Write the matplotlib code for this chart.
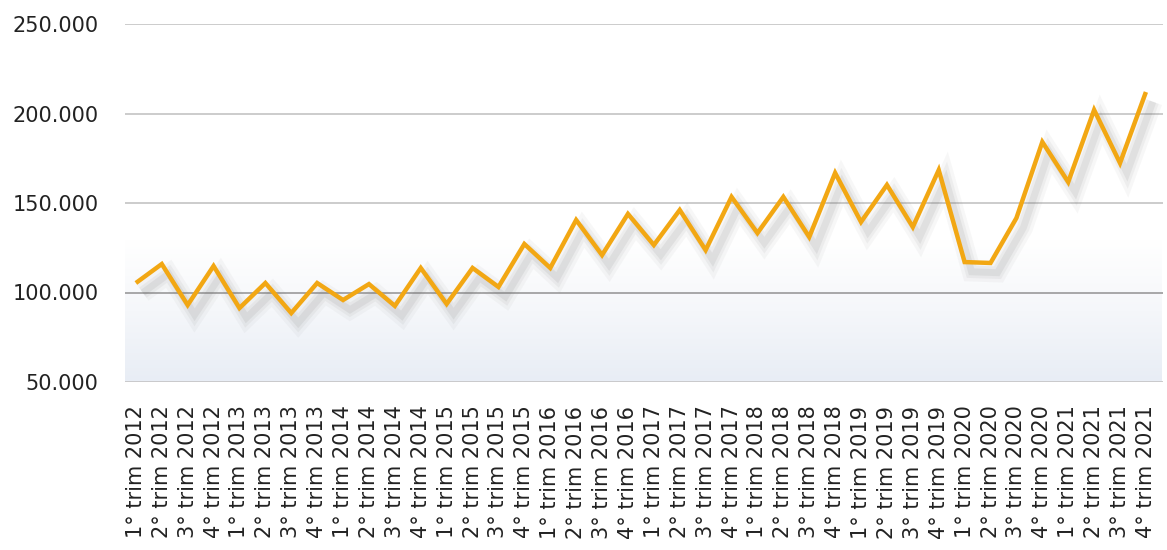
import numpy as np
import matplotlib
matplotlib.use("Agg")
import matplotlib.pyplot as plt
import matplotlib.patheffects as pe
from matplotlib.colors import LinearSegmentedColormap
from matplotlib.ticker import FuncFormatter

years = [2012, 2013, 2014, 2015, 2016, 2017, 2018, 2019, 2020, 2021]
quarters = [1, 2, 3, 4]
labels = [f"{q}° trim {y}" for y in years for q in quarters]

values = [
    105300, 115900, 93000, 114800,
    91300, 105300, 88500, 105300,
    95800, 104700, 92500, 113700,
    93600, 113700, 103100, 127100,
    113700, 140500, 120900, 143900,
    126500, 146100, 123700, 153400,
    133200, 153400, 131000, 166800,
    139400, 160100, 136600, 168400,
    117000, 116500, 141600, 184100,
    161700, 202000, 172300, 212000,
]

yticks = [50000, 100000, 150000, 200000, 250000]

line_color = "#f2a713"
grid_color = "#c4c4c4"

fig = plt.figure(figsize=(11.67, 5.5), dpi=100)
W, H = 1167, 550
ax = fig.add_axes([125 / W, (550 - 382) / H, (1163 - 125) / W, (382 - 24) / H])

x = np.arange(len(values))
x0, x1 = -0.42, len(values) - 1 + 0.66

# soft blue band at the bottom of the plot area
grad = LinearSegmentedColormap.from_list("band", ["#ffffff", "#f5f7fa", "#e8edf5"])
ramp = np.linspace(0, 1, 256).reshape(-1, 1)
ax.imshow(ramp, cmap=grad, aspect="auto", origin="upper",
          extent=(x0, len(values) - 1 + 0.6, 50000, 129000), zorder=0)
ax.set_xlim(x0, x1)
ax.set_ylim(50000, 250000)

for yv in yticks:
    c = "#9a9a9a" if yv == 100000 else grid_color
    ax.axhline(yv, color=c, lw=1.2, zorder=1)

shadow = [
    pe.SimpleLineShadow(offset=(5, -7), shadow_color="#707070", alpha=0.05, linewidth=14),
    pe.SimpleLineShadow(offset=(5, -7), shadow_color="#707070", alpha=0.07, linewidth=9),
    pe.SimpleLineShadow(offset=(5, -7), shadow_color="#707070", alpha=0.10, linewidth=5),
    pe.Normal(),
]
ax.plot(x, values, color=line_color, lw=3.2, solid_joinstyle="miter",
        solid_capstyle="butt", zorder=3, path_effects=shadow)

for s in ax.spines.values():
    s.set_visible(False)

ax.set_yticks(yticks)
ax.yaxis.set_major_formatter(FuncFormatter(lambda v, p: f"{int(v):,}".replace(",", ".")))
ax.tick_params(axis="y", length=0, pad=19, labelsize=15, labelcolor="#222222")

ax.set_xticks(x)
ax.set_xticklabels(labels, rotation=90, fontsize=15, color="#222222")
ax.tick_params(axis="x", length=0, pad=17)

fig.savefig("out.png", dpi=100)
